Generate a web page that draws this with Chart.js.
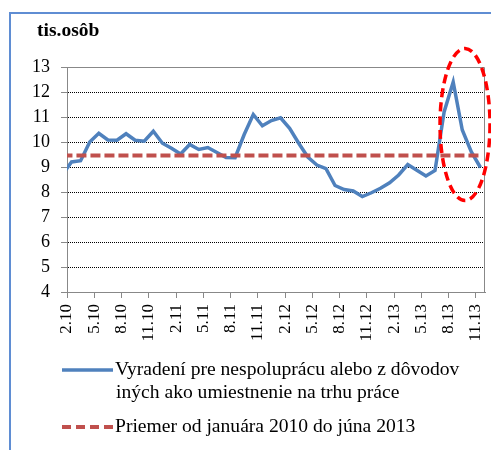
<!DOCTYPE html>
<html>
<head>
<meta charset="utf-8">
<script src="https://cdn.jsdelivr.net/npm/chart.js@4"></script>
<style>
  body { margin: 0; background: #fff; }
  canvas { display: block; }
</style>
</head>
<body>
<canvas id="chart" width="491" height="450"></canvas>
<script>
// months Jan 2010 .. Nov 2013 (Jan 2010 sits just left of the visible axis)
var months = ['1.10', '2.10', '3.10', '4.10', '5.10', '6.10', '7.10', '8.10', '9.10', '10.10', '11.10', '12.10',
              '1.11', '2.11', '3.11', '4.11', '5.11', '6.11', '7.11', '8.11', '9.11', '10.11', '11.11', '12.11',
              '1.12', '2.12', '3.12', '4.12', '5.12', '6.12', '7.12', '8.12', '9.12', '10.12', '11.12', '12.12',
              '1.13', '2.13', '3.13', '4.13', '5.13', '6.13', '7.13', '8.13', '9.13', '10.13', '11.13'];
var values = [8.7, 9.2, 9.25, 10.0, 10.35, 10.08, 10.07, 10.33, 10.07, 10.03, 10.43, 9.95,
              9.75, 9.52, 9.9, 9.7, 9.78, 9.58, 9.38, 9.37, 10.3, 11.1, 10.65, 10.86,
              10.97, 10.55, 9.95, 9.4, 9.08, 8.93, 8.26, 8.1, 8.04, 7.82, 7.97, 8.15,
              8.37, 8.68, 9.1, 8.87, 8.64, 8.86, 11.2, 12.4, 10.48, 9.6, 8.98];
var averageLevel = 9.46;
var tickLabels = ['2.10', '5.10', '8.10', '11.10', '2.11', '5.11', '8.11', '11.11',
                  '2.12', '5.12', '8.12', '11.12', '2.13', '5.13', '8.13', '11.13'];
var unitLabel = 'tis.osôb';
var seriesLabel = ['Vyradení pre nespoluprácu alebo z dôvodov', 'iných ako umiestnenie na trhu práce'];
var averageLabel = 'Priemer od januára 2010 do júna 2013';

var blue = '#4F81BD';
var red = '#C0504D';
var serif = "'Liberation Serif', 'Times New Roman', serif";

var decorations = {
  id: 'decorations',
  beforeDraw: function (chart) {
    var c = chart.ctx;
    c.save();
    c.fillStyle = '#fff';
    c.fillRect(0, 0, chart.width, chart.height);
    // outer frame (runs off the right and bottom edges)
    c.strokeStyle = '#5F8DD3';
    c.lineWidth = 2;
    c.beginPath();
    c.moveTo(10, chart.height);
    c.lineTo(10, 13);
    c.lineTo(chart.width, 13);
    c.stroke();
    c.restore();
  },
  beforeDatasetsDraw: function (chart) {
    var c = chart.ctx, a = chart.chartArea;
    c.save();
    c.strokeStyle = '#888';
    c.lineWidth = 1;
    c.beginPath();
    c.moveTo(Math.round(a.left) + 0.5, Math.round(a.top) + 0.5);
    c.lineTo(Math.round(a.right) - 0.5, Math.round(a.top) + 0.5);
    c.lineTo(Math.round(a.right) - 0.5, Math.round(a.bottom));
    c.stroke();
    c.restore();
  },
  afterDraw: function (chart) {
    var c = chart.ctx;
    var xs = chart.scales.x, ys = chart.scales.y;
    c.save();

    // highlight ellipse round the last months
    var cx = xs.getPixelForValue(44.3), cy = ys.getPixelForValue(10.7);
    var rx = xs.getPixelForValue(44.3 + 2.75) - cx;
    var ry = ys.getPixelForValue(10.7) - ys.getPixelForValue(10.7 + 3.04);
    c.strokeStyle = '#FF0000';
    c.lineWidth = 3.5;
    c.setLineDash([9, 5]);
    c.beginPath();
    c.ellipse(cx, cy, rx, ry, 0, 0, Math.PI * 2);
    c.stroke();
    c.setLineDash([]);

    // unit title
    c.fillStyle = '#000';
    c.font = 'bold 19.5px ' + serif;
    c.textBaseline = 'alphabetic';
    c.fillText(unitLabel, 37, 36);

    // legend
    c.strokeStyle = blue;
    c.lineWidth = 3.5;
    c.beginPath();
    c.moveTo(62, 370);
    c.lineTo(113, 370);
    c.stroke();
    c.strokeStyle = red;
    c.lineWidth = 4;
    c.setLineDash([9, 5]);
    c.beginPath();
    c.moveTo(62, 427);
    c.lineTo(113, 427);
    c.stroke();
    c.setLineDash([]);

    c.font = '19.6px ' + serif;
    c.fillText(seriesLabel[0], 115, 375);
    c.fillText(seriesLabel[1], 116, 398);
    c.fillText(averageLabel, 115, 432);
    c.restore();
  }
};

new Chart(document.getElementById('chart'), {
  type: 'line',
  data: {
    datasets: [{
      label: seriesLabel.join(' '),
      data: months.map(function (m, i) { return { x: i, y: values[i] }; }),
      borderColor: blue,
      borderWidth: 3.5,
      pointRadius: 0,
      tension: 0,
      clip: 0,
      order: 1
    }, {
      label: averageLabel,
      data: months.map(function (m, i) { return { x: i, y: averageLevel }; }),
      borderColor: red,
      borderWidth: 4,
      borderDash: [10, 4],
      pointRadius: 0,
      clip: 0,
      order: 0
    }]
  },
  options: {
    responsive: false,
    animation: false,
    devicePixelRatio: 1,
    layout: { padding: { top: 67, right: 6, left: 0, bottom: 0 } },
    plugins: { legend: { display: false }, tooltip: { enabled: false } },
    scales: {
      x: {
        type: 'linear',
        min: 0.5,
        max: 46.5,
        bounds: 'data',
        afterBuildTicks: function (s) {
          s.ticks = tickLabels.map(function (t, k) { return { value: 0.5 + 3 * k }; });
        },
        afterFit: function (s) {
          s.height = 158;
          s.paddingLeft = 0;
          s.paddingRight = 0;
        },
        ticks: {
          autoSkip: false,
          minRotation: 90,
          maxRotation: 90,
          padding: 6,
          color: '#000',
          font: { family: serif, size: 17 },
          callback: function (v, i) { return tickLabels[i]; }
        },
        grid: { drawOnChartArea: false, tickLength: 6, tickColor: '#888' },
        border: { color: '#888' }
      },
      y: {
        min: 4,
        max: 13,
        afterFit: function (s) {
          s.width = 67;
          s.paddingTop = 0;
          s.paddingBottom = 0;
        },
        ticks: {
          stepSize: 1,
          padding: 11,
          color: '#000',
          font: { family: serif, size: 18 }
        },
        grid: {
          tickLength: 6,
          tickColor: '#888',
          color: function (ctx) {
            var v = ctx.tick ? ctx.tick.value : null;
            return (v === 4 || v === 13) ? 'rgba(0,0,0,0)' : '#000';
          }
        },
        border: { color: '#888', dash: [1, 1] }
      }
    }
  },
  plugins: [decorations]
});
</script>
</body>
</html>
